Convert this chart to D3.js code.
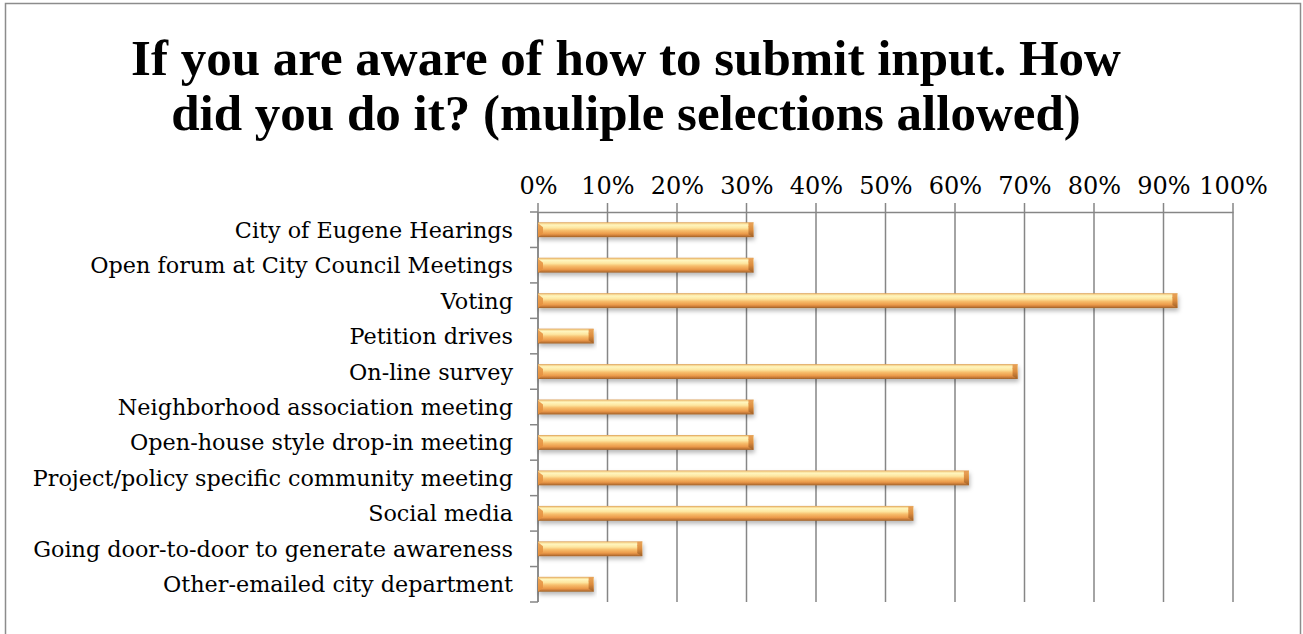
<!DOCTYPE html>
<html>
<head>
<meta charset="utf-8">
<script src="https://cdn.jsdelivr.net/npm/d3@7"></script>
<style>
  html, body { margin: 0; padding: 0; background: #ffffff; }
  svg { display: block; }
  text { fill: #000; }
</style>
</head>
<body>
<svg id="chart" width="1303" height="634"></svg>
<script>
// Survey answers, top to bottom
const categories = [
  "City of Eugene Hearings",
  "Open forum at City Council Meetings",
  "Voting",
  "Petition drives",
  "On-line survey",
  "Neighborhood association meeting",
  "Open-house style drop-in meeting",
  "Project/policy specific community meeting",
  "Social media",
  "Going door-to-door to generate awareness",
  "Other-emailed city department"
];
// Share of respondents choosing each option
const shares = [0.31, 0.31, 0.92, 0.08, 0.69, 0.31, 0.31, 0.62, 0.54, 0.15, 0.08];
// Value-axis ticks
const tickValues = [0, 0.1, 0.2, 0.3, 0.4, 0.5, 0.6, 0.7, 0.8, 0.9, 1.0];
const titleLines = [
  "If you are aware of how to submit input. How",
  "did you do it? (muliple selections allowed)"
];

const svg = d3.select("#chart");
const gridColor = "#868686";
const bodyFont = "'DejaVu Serif', 'Liberation Serif', serif";

const plot = { left: 538, right: 1233, top: 212, bottom: 602 };

const x = d3.scaleLinear().domain([0, 1]).range([plot.left, plot.right]);
const y = d3.scaleBand().domain(categories).range([plot.top, plot.bottom])
  .paddingInner(0.58).paddingOuter(0.29);

// Defs: bar gradients and shadow
const defs = svg.append("defs");
const g1 = defs.append("linearGradient").attr("id", "barGrad")
  .attr("x1", 0).attr("y1", 0).attr("x2", 0).attr("y2", 1);
[
  [0, "#d99b52"], [0.08, "#f6d48e"], [0.18, "#fff6bf"], [0.38, "#fde6a0"],
  [0.55, "#f7be6c"], [0.78, "#eb9a4a"], [0.9, "#c77a37"], [1, "#9c6128"]
].forEach(([o, c]) => g1.append("stop").attr("offset", o).attr("stop-color", c));

const g2 = defs.append("linearGradient").attr("id", "capGrad")
  .attr("x1", 0).attr("y1", 0).attr("x2", 0).attr("y2", 1);
[[0, "#e9a95c"], [0.5, "#dc8c3e"], [1, "#9e5f26"]]
  .forEach(([o, c]) => g2.append("stop").attr("offset", o).attr("stop-color", c));

const shadow = defs.append("filter").attr("id", "barShadow")
  .attr("x", "-5%").attr("y", "-40%").attr("width", "110%").attr("height", "200%");
shadow.append("feDropShadow").attr("dx", 1).attr("dy", 3).attr("stdDeviation", 2)
  .attr("flood-color", "#000").attr("flood-opacity", 0.28);

// Outer chart frame
svg.append("rect")
  .attr("x", 5.5).attr("y", 3.5).attr("width", 1295).attr("height", 660)
  .attr("fill", "#fff").attr("stroke", "#8c8c8c").attr("stroke-width", 1.5);

// Title
svg.append("text")
  .attr("text-anchor", "middle")
  .attr("font-family", "'Liberation Serif', serif")
  .attr("font-weight", "bold")
  .attr("font-size", 51)
  .selectAll("tspan").data(titleLines).join("tspan")
  .attr("x", 626)
  .attr("y", (d, i) => 75 + i * 55)
  .text(d => d);

// Vertical gridlines (through the plot) plus ticks above the axis
svg.append("g").selectAll("line").data(tickValues).join("line")
  .attr("x1", d => x(d)).attr("x2", d => x(d))
  .attr("y1", plot.top - 9).attr("y2", plot.bottom)
  .attr("stroke", gridColor).attr("stroke-width", 1.5);

// Top value axis
const xAxis = svg.append("g")
  .attr("transform", `translate(0,${plot.top})`)
  .call(d3.axisTop(x).tickValues(tickValues).tickFormat(d3.format(".0%"))
    .tickSize(9).tickSizeOuter(0).tickPadding(9));
xAxis.select(".domain").attr("stroke", gridColor).attr("stroke-width", 1.5);
xAxis.selectAll(".tick line").remove();
xAxis.selectAll(".tick text")
  .attr("font-family", bodyFont)
  .attr("font-size", 24).attr("fill", "#000");

// Category axis: boundary ticks and vertical line
const step = y.step();
const bounds = d3.range(categories.length + 1).map(i => plot.top + i * step);
const yAxisG = svg.append("g");
yAxisG.append("line")
  .attr("x1", plot.left).attr("x2", plot.left)
  .attr("y1", plot.top).attr("y2", plot.bottom)
  .attr("stroke", gridColor).attr("stroke-width", 1.5);
yAxisG.selectAll("line.tick").data(bounds).join("line")
  .attr("class", "tick")
  .attr("x1", plot.left - 8).attr("x2", plot.left)
  .attr("y1", d => d).attr("y2", d => d)
  .attr("stroke", gridColor).attr("stroke-width", 1.5);

// Category labels
svg.append("g").selectAll("text").data(categories).join("text")
  .attr("x", 513)
  .attr("y", d => y(d) + y.bandwidth() / 2)
  .attr("dy", "0.36em")
  .attr("text-anchor", "end")
  .attr("font-family", bodyFont)
  .attr("font-size", 22.3)
  .text(d => d);

// Bars with bevelled ends
const bars = svg.append("g").selectAll("g").data(categories).join("g")
  .attr("filter", "url(#barShadow)");
const bh = y.bandwidth();
bars.append("rect")
  .attr("x", x(0))
  .attr("y", d => y(d))
  .attr("width", (d, i) => x(shares[i]) - x(0))
  .attr("height", bh)
  .attr("fill", "url(#barGrad)");
// right end cap
bars.append("path")
  .attr("d", (d, i) => {
    const xe = x(shares[i]), y0 = y(d);
    return `M${xe - 5},${y0 + 4} L${xe},${y0} L${xe},${y0 + bh} L${xe - 5},${y0 + bh - 3} Z`;
  })
  .attr("fill", "url(#capGrad)");
bars.append("path")
  .attr("d", (d, i) => {
    const xe = x(shares[i]), y0 = y(d);
    return `M${xe - 5},${y0 + 0.5} L${xe},${y0 + 0.5} L${xe - 5},${y0 + 5} Z`;
  })
  .attr("fill", "#e79c52");
// left end bevel
bars.append("path")
  .attr("d", d => {
    const x0 = x(0), y0 = y(d);
    return `M${x0},${y0 + 1} L${x0 + 5},${y0 + 5} L${x0 + 5},${y0 + bh - 4} L${x0},${y0 + bh} Z`;
  })
  .attr("fill", "#e5913f").attr("opacity", 0.85);
</script>
</body>
</html>
